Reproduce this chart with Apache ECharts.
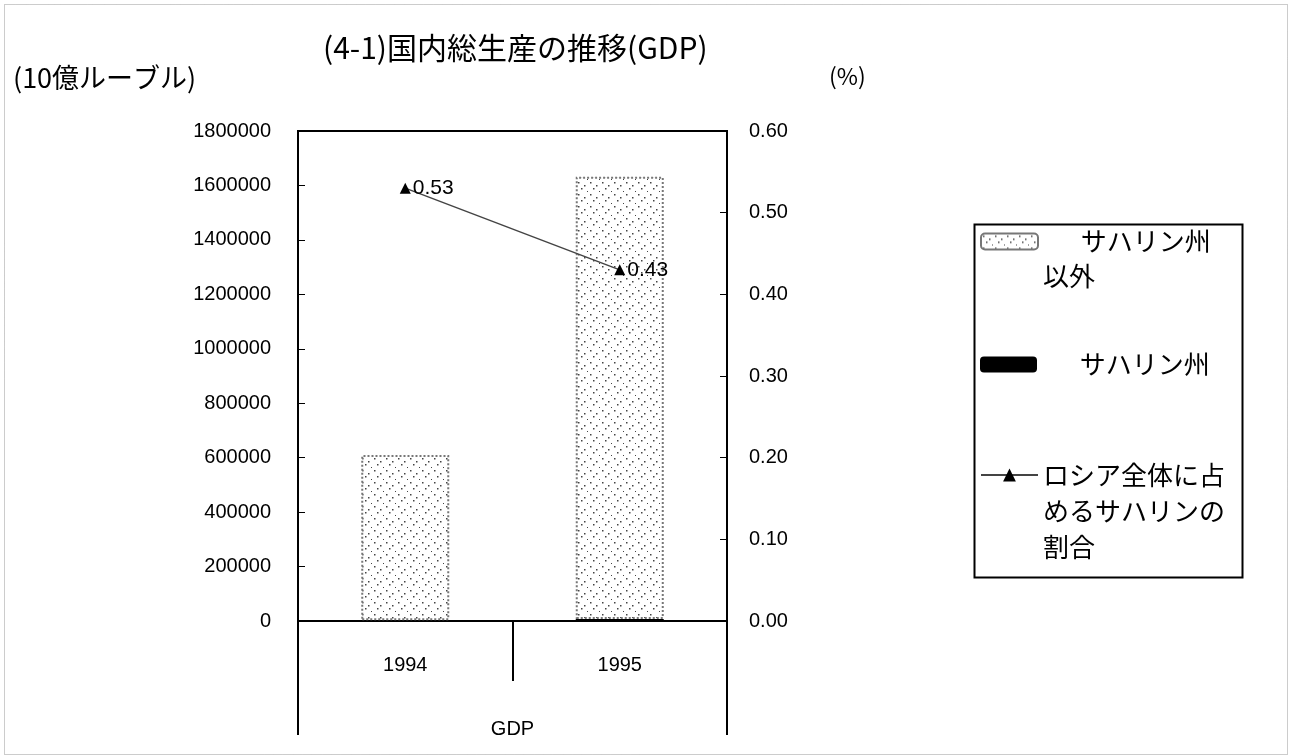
<!DOCTYPE html>
<html>
<head>
<meta charset="utf-8">
<script src="https://cdn.jsdelivr.net/npm/echarts@6/dist/echarts.min.js"></script>
<style>
  html, body { margin: 0; padding: 0; background: #fff; }
  #main { width: 1289px; height: 756px; }
</style>
</head>
<body>
<div id="main"></div>
<script>
var years = ['1994', '1995'];
// サハリン州以外 / サハリン州 (10億ルーブル), share of Russia (%)
var otherValues = [607000, 1625000];
var sakhalinValues = [3200, 7000];
var shareValues = [0.53, 0.43];
var leftTicks = [0, 1800000, 200000];
var rightTicks = [0, 0.6, 0.1];

var numFont = '"Liberation Sans", Arial, sans-serif';
var jpFont = '"Noto Sans CJK JP", sans-serif';

// dotted fill like the printed hatch
function dotPattern() {
    var c = document.createElement('canvas');
    c.width = 12; c.height = 12;
    var ctx = c.getContext('2d');
    ctx.fillStyle = '#fff';
    ctx.fillRect(0, 0, 12, 12);
    ctx.fillStyle = '#444';
    ctx.fillRect(2, 2, 1.5, 1.5);
    ctx.fillRect(8, 5, 1.5, 1.5);
    ctx.fillRect(5, 8, 1.5, 1.5);
    ctx.fillRect(11, 11, 1, 1);
    return c;
}
var pattern = {image: dotPattern(), repeat: 'repeat'};

var myChart = echarts.init(document.getElementById('main'));

function legendText(lh) {
    return {fontFamily: jpFont, fontSize: 26, lineHeight: lh, color: '#000'};
}

var option = {
    backgroundColor: '#fff',
    animation: false,
    title: [
        {
            text: '(4-1)国内総生産の推移(GDP)',
            left: 318, top: 28,
            textStyle: {fontFamily: jpFont, fontSize: 30, fontWeight: 'normal', color: '#000'}
        },
        {
            text: '(10億ルーブル)',
            left: 8, top: 59,
            textStyle: {fontFamily: jpFont, fontSize: 27, fontWeight: 'normal', color: '#000'}
        },
        {
            text: '(%)',
            left: 824, top: 60,
            textStyle: {fontFamily: jpFont, fontSize: 23, fontWeight: 'normal', color: '#000'}
        }
    ],
    grid: {
        left: 298, right: 562, top: 131, bottom: 135,
        show: true, borderColor: '#000', borderWidth: 2
    },
    legend: [
        {
            data: ['サハリン州以外'],
            left: 975, top: 184,
            itemWidth: 57, itemHeight: 16,
            formatter: function () { return ' \n　  サハリン州\n以外'; },
            textStyle: legendText(35)
        },
        {
            data: ['サハリン州'],
            left: 975, top: 342,
            itemWidth: 57, itemHeight: 16,
            formatter: function () { return '　  サハリン州'; },
            textStyle: legendText(35)
        },
        {
            data: ['ロシア全体に占めるサハリンの割合'],
            left: 975, top: 380,
            itemWidth: 57, itemHeight: 16,
            formatter: function () { return ' \n \nロシア全体に占\nめるサハリンの\n割合'; },
            textStyle: legendText(36)
        }
    ],
    xAxis: {
        type: 'category',
        data: years,
        name: 'GDP',
        nameLocation: 'middle',
        nameGap: 98,
        nameTextStyle: {fontFamily: numFont, fontSize: 20, color: '#000'},
        axisLine: {lineStyle: {color: '#000', width: 2}},
        axisTick: {show: true, length: 60, lineStyle: {color: '#000', width: 2}},
        axisLabel: {margin: 34, fontFamily: numFont, fontSize: 20, color: '#000'}
    },
    yAxis: [
        {
            type: 'value',
            min: leftTicks[0], max: leftTicks[1], interval: leftTicks[2],
            splitLine: {show: false},
            axisLine: {show: true, lineStyle: {color: '#000', width: 2}},
            axisTick: {show: true, inside: true, length: 7, lineStyle: {color: '#000'}},
            axisLabel: {
                margin: 27, fontFamily: numFont, fontSize: 20, color: '#000',
                formatter: function (v) { return String(v); }
            }
        },
        {
            type: 'value',
            min: rightTicks[0], max: rightTicks[1], interval: rightTicks[2],
            splitLine: {show: false},
            axisLine: {show: true, lineStyle: {color: '#000', width: 2}},
            axisTick: {show: true, inside: true, length: 7, lineStyle: {color: '#000'}},
            axisLabel: {
                margin: 22, fontFamily: numFont, fontSize: 20, color: '#000',
                formatter: function (v) { return v.toFixed(2); }
            }
        }
    ],
    series: [
        {
            name: 'サハリン州',
            type: 'bar',
            stack: 'gdp',
            barWidth: 88,
            itemStyle: {color: '#000'},
            data: sakhalinValues
        },
        {
            name: 'サハリン州以外',
            type: 'bar',
            stack: 'gdp',
            barWidth: 88,
            itemStyle: {color: pattern, borderColor: '#777', borderWidth: 2, borderType: 'dotted'},
            data: otherValues
        },
        {
            name: 'ロシア全体に占めるサハリンの割合',
            type: 'line',
            yAxisIndex: 1,
            symbol: 'triangle',
            symbolSize: 11,
            itemStyle: {color: '#000'},
            lineStyle: {color: '#444', width: 1.5},
            label: {
                show: true, position: 'right', distance: 2,
                fontFamily: numFont, fontSize: 21, color: '#000',
                formatter: function (p) { return p.value.toFixed(2); }
            },
            data: shareValues
        }
    ],
    graphic: [
        // legend frame
        {type: 'rect', left: 972, top: 222, z: 0,
         shape: {width: 268, height: 353},
         style: {fill: 'none', stroke: '#000', lineWidth: 2}},
        // category table side lines
        {type: 'line', shape: {x1: 298, y1: 621, x2: 298, y2: 735},
         style: {stroke: '#000', lineWidth: 2}},
        {type: 'line', shape: {x1: 727, y1: 621, x2: 727, y2: 735},
         style: {stroke: '#000', lineWidth: 2}},
        // outer frame
        {type: 'rect', left: 2, top: 2, z: 0,
         shape: {width: 1283, height: 750},
         style: {fill: 'none', stroke: '#999', lineWidth: 1, lineDash: [1, 1]}}
    ]
};

myChart.setOption(option);
</script>
</body>
</html>
